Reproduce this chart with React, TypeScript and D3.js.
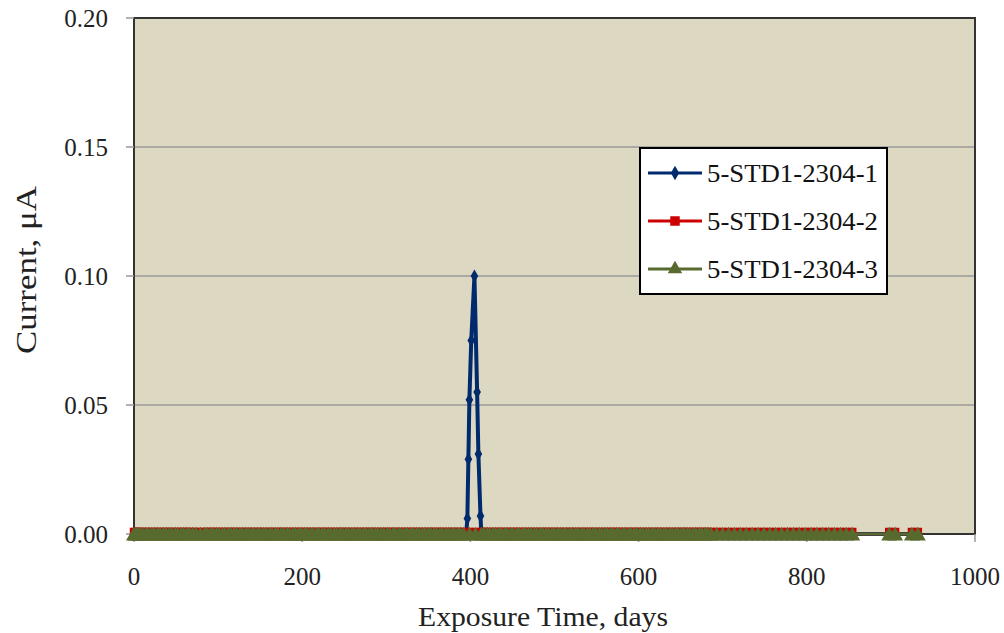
import React from "react";
import * as d3 from "d3";

const xTicks = [0, 200, 400, 600, 800, 1000];
const yTicks = [0, 0.05, 0.1, 0.15, 0.2];
const seriesNames = ["5-STD1-2304-1", "5-STD1-2304-2", "5-STD1-2304-3"];
const seriesColors = ["#002a6e", "#cc0000", "#586a2e"];

const baseDays = [0, 2, 4, 7, 10, 14, 17, 21, 24, 28, 31, 35, 38, 42, 45, 49, 52, 56, 59, 63, 66, 70, 74,
  79, 84, 87, 91, 94, 98, 101, 105, 108, 112, 115, 119, 122, 126, 129, 133, 136, 140, 143, 147, 150, 154,
  157, 161, 164, 168, 171, 175, 178, 182, 185, 189, 192, 196, 199, 203, 206, 210, 213, 217, 220, 224, 227,
  231, 234, 238, 241, 245, 248, 252, 255, 259, 262, 266, 269, 273, 276, 280, 283, 287, 290, 294, 297, 301,
  304, 308, 311, 315, 318, 322, 325, 329, 332, 336, 339, 343, 346, 350, 353, 357, 360, 364, 367, 371, 374,
  378, 381, 385, 388, 392, 399, 406, 413, 416, 420, 423, 427, 430, 434, 437, 441, 444, 448, 451, 455, 458,
  462, 465, 469, 472, 476, 479, 483, 486, 490, 493, 497, 500, 504, 507, 511, 514, 518, 521, 525, 528, 532,
  535, 539, 542, 546, 549, 553, 556, 560, 563, 567, 570, 574, 577, 581, 584, 588, 591, 595, 598, 602, 605,
  609, 612, 616, 619, 623, 626, 630, 633, 637, 640, 644, 647, 651, 654, 658, 661, 665, 668, 672, 675, 679,
  682, 686, 693, 700, 707, 714, 721, 728, 735, 742, 749, 756, 763, 770, 777, 784, 791, 798, 805, 812, 819,
  826, 833, 840, 847, 854, 898, 905, 925, 932];

// Series 1 spike (days, current)
const spikeDays = [395, 396.4, 397.6, 398.8, 401, 404.8, 408, 409.5, 412, 413];
const spikeVals = [0, 0.006, 0.029, 0.052, 0.075, 0.1, 0.055, 0.031, 0.007, 0];

const s1Days = [...baseDays.filter((d) => d < 395), ...spikeDays, ...baseDays.filter((d) => d > 413)];
const s1Vals = s1Days.map((d) => {
  const i = spikeDays.indexOf(d);
  return i >= 0 ? spikeVals[i] : 0;
});
const s2Days = baseDays;
const s2Vals = baseDays.map(() => 0);
const s3Days = baseDays;
const s3Vals = baseDays.map(() => 0);

const W = 1004, H = 633;
const L = 134, R = 975, T = 18, B = 534;
const font = "'Liberation Serif', 'Times New Roman', serif";

export default function App() {
  const x = d3.scaleLinear().domain([0, 1000]).range([L, R]);
  const y = d3.scaleLinear().domain([0, 0.2]).range([B, T]);
  const line = d3.line<[number, number]>().x((d) => x(d[0])).y((d) => y(d[1]));
  const series = [
    { days: s1Days, vals: s1Vals },
    { days: s2Days, vals: s2Vals },
    { days: s3Days, vals: s3Vals },
  ];
  const syms = [
    d3.symbol().type(d3.symbolDiamond).size(50)(),
    d3.symbol().type(d3.symbolSquare).size(72)(),
    d3.symbol().type(d3.symbolTriangle).size(110)(),
  ];
  const legendSyms = [
    d3.symbol().type(d3.symbolDiamond).size(60)(),
    d3.symbol().type(d3.symbolSquare).size(90)(),
    d3.symbol().type(d3.symbolTriangle).size(90)(),
  ];
  const lw = [4, 2.5, 3];
  const dyOff = [0, -2, 2];

  return (
    <svg width={W} height={H} style={{ position: "absolute", left: 0, top: 0, background: "#fff" }}>
      <rect x={L} y={T} width={R - L} height={B - T} fill="#ddd8c2" />
      {yTicks.slice(1, -1).map((t) => (
        <line key={t} x1={L} x2={R} y1={y(t)} y2={y(t)} stroke="#9a9a9a" strokeWidth={1.5} />
      ))}
      <rect x={L} y={T} width={R - L} height={B - T} fill="none" stroke="#333" strokeWidth={2} />
      {yTicks.map((t) => (
        <g key={t}>
          <line x1={L - 8} x2={L} y1={y(t)} y2={y(t)} stroke="#999" strokeWidth={1.5} />
          <text x={108} y={y(t)} dy="0.35em" textAnchor="end" fontFamily={font} fontSize={25} fill="#222">
            {t.toFixed(2)}
          </text>
        </g>
      ))}
      {xTicks.map((t) => (
        <g key={t}>
          <line x1={x(t)} x2={x(t)} y1={B} y2={B + 8} stroke="#999" strokeWidth={1.5} />
          <text x={x(t)} y={585} textAnchor="middle" fontFamily={font} fontSize={25} fill="#222">
            {t}
          </text>
        </g>
      ))}
      <text x={543} y={626} textAnchor="middle" fontFamily={font} fontSize={28} fill="#222" textLength={250} lengthAdjust="spacingAndGlyphs">
        Exposure Time, days
      </text>
      <text transform={`translate(36,270) rotate(-90)`} textAnchor="middle" fontFamily={font} fontSize={29} fill="#222" textLength={168} lengthAdjust="spacingAndGlyphs">
        Current, μA
      </text>
      {series.map((s, i) => {
        const pts = s.days.map((d, j) => [d, s.vals[j]] as [number, number]);
        return (
          <g key={i}>
            <path d={line(pts) || ""} fill="none" stroke={seriesColors[i]} strokeWidth={lw[i]} strokeLinejoin="round" />
            {pts.map((p, j) => (
              <path key={j} d={syms[i] || ""} transform={`translate(${x(p[0])},${y(p[1]) + (p[1] === 0 ? dyOff[i] : 0)})`} fill={seriesColors[i]} />
            ))}
          </g>
        );
      })}
      <rect x={640} y={148} width={247} height={146} fill="#fff" stroke="#000" strokeWidth={2} />
      {seriesNames.map((n, i) => {
        const yy = 173 + i * 48;
        return (
          <g key={n}>
            <line x1={648} x2={702} y1={yy} y2={yy} stroke={seriesColors[i]} strokeWidth={3} />
            <path d={legendSyms[i] || ""} transform={`translate(675,${yy})`} fill={seriesColors[i]} />
            <text x={707} y={yy} dy="0.35em" fontFamily={font} fontSize={25} fill="#111" textLength={171} lengthAdjust="spacingAndGlyphs">
              {n}
            </text>
          </g>
        );
      })}
    </svg>
  );
}
